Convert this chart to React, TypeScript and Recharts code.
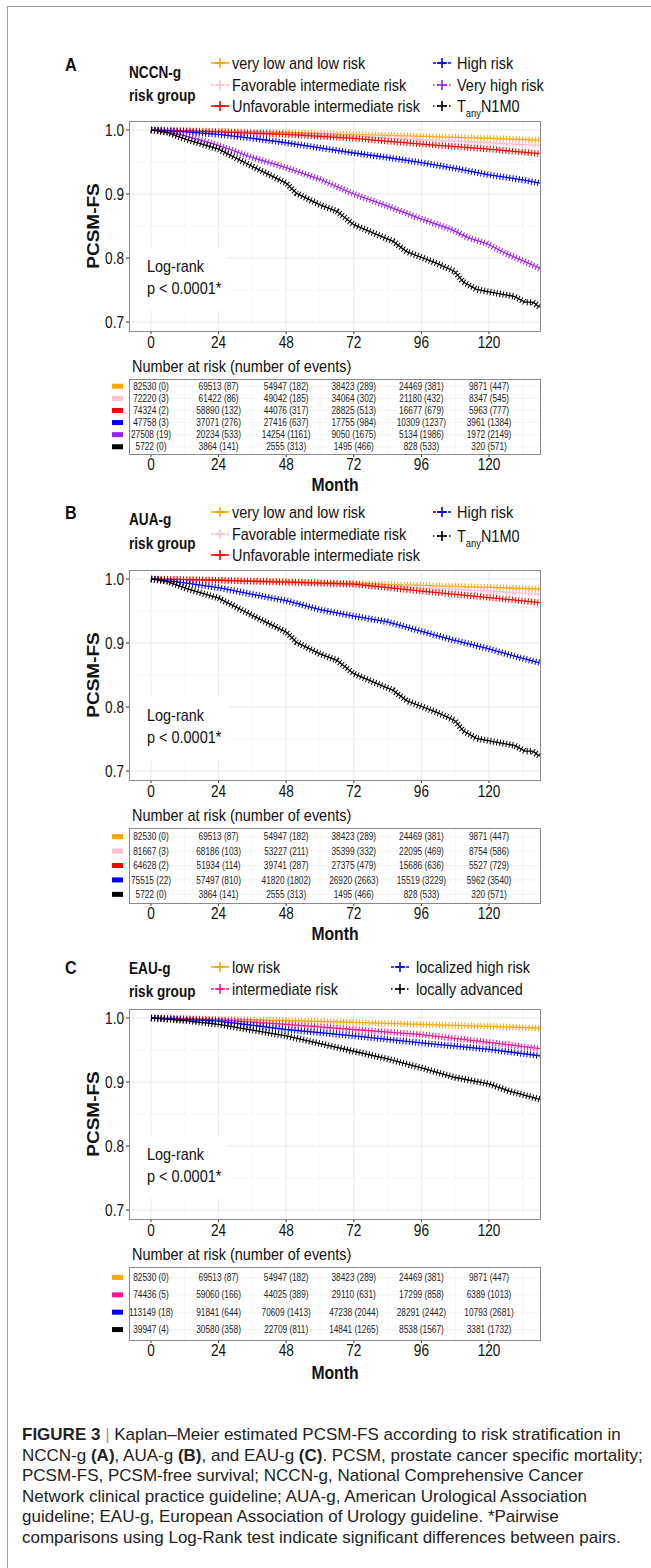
import React from 'react';
import { LineChart, Line, XAxis, YAxis, CartesianGrid, ScatterChart, Scatter } from 'recharts';

const FONT = '"Liberation Sans", Arial, Helvetica, sans-serif';

// ---------- axes ----------
const xTicks = [0, 24, 48, 72, 96, 120];
const xMinor = [12, 36, 60, 84, 108, 132];
const yTicks = [0.7, 0.8, 0.9, 1.0];
const yMinor = [0.75, 0.85, 0.95];
const riskTimes = [0, 24, 48, 72, 96, 120];

// ---------- colours ----------
const cOrange = '#FFA500';
const cPink = '#FFC0CB';
const cRed = '#FF0000';
const cBlue = '#0000FF';
const cPurple = '#A020F0';
const cBlack = '#000000';
const cDeepPink = '#FF1493';

// ---------- survival curves: [month, PCSM-FS] ----------
type Pt = [number, number];
const lowRiskCurve: Pt[] = [[0, 1], [12, 0.9995], [24, 0.998], [48, 0.996], [72, 0.993], [96, 0.99], [120, 0.987], [138, 0.984]];
const tanyN1M0Curve: Pt[] = [[0, 1], [6, 0.996], [12.7, 0.985], [24, 0.97], [36, 0.943], [48, 0.917], [51.7, 0.901], [60, 0.883], [66, 0.873], [72, 0.852], [79, 0.839], [86, 0.826], [90.7, 0.81], [95.4, 0.802], [101.3, 0.792], [107.8, 0.779], [110.8, 0.763], [115.5, 0.751], [121.4, 0.746], [129, 0.74], [132.7, 0.731], [135.6, 0.731], [138, 0.723]];

const nccnFavCurve: Pt[] = [[0, 1], [24, 0.997], [48, 0.994], [72, 0.99], [96, 0.985], [120, 0.98], [138, 0.976]];
const nccnUnfavCurve: Pt[] = [[0, 1], [24, 0.997], [48, 0.993], [72, 0.987], [96, 0.978], [120, 0.97], [138, 0.963]];
const nccnHighCurve: Pt[] = [[0, 1], [12, 0.997], [24, 0.993], [36, 0.987], [48, 0.98], [60, 0.972], [72, 0.964], [84, 0.957], [96, 0.949], [108, 0.94], [120, 0.93], [132, 0.922], [138, 0.917]];
const nccnVeryHighCurve: Pt[] = [[0, 1], [6, 0.997], [12, 0.991], [18.6, 0.983], [24.5, 0.975], [36, 0.957], [48, 0.941], [60, 0.923], [72, 0.9], [84, 0.881], [95.4, 0.862], [107, 0.844], [113, 0.831], [119, 0.823], [126, 0.807], [133, 0.794], [138, 0.784]];

const auaFavCurve: Pt[] = [[0, 1], [24, 0.998], [48, 0.994], [72, 0.99], [96, 0.986], [120, 0.981], [138, 0.976]];
const auaUnfavCurve: Pt[] = [[0, 1], [24, 0.998], [48, 0.995], [72, 0.992], [96, 0.981], [120, 0.971], [138, 0.963]];
const auaHighCurve: Pt[] = [[0, 1], [12, 0.994], [24.5, 0.986], [36, 0.976], [48, 0.966], [60, 0.952], [72, 0.942], [84, 0.933], [95.4, 0.919], [107, 0.905], [119, 0.892], [131, 0.877], [138, 0.869]];

const eauIntCurve: Pt[] = [[0, 1], [24, 0.997], [48, 0.99], [72, 0.982], [96, 0.974], [120, 0.962], [138, 0.952]];
const eauHighCurve: Pt[] = [[0, 1], [24, 0.995], [48, 0.982], [72, 0.972], [96, 0.961], [120, 0.951], [138, 0.941]];
const eauAdvCurve: Pt[] = [[0, 1], [12, 0.996], [24, 0.99], [36, 0.981], [48, 0.972], [60, 0.96], [72, 0.948], [84, 0.936], [96, 0.922], [108, 0.907], [120, 0.897], [127, 0.886], [138, 0.873]];

// ---------- number at risk (number of events) ----------
const nccnAtRisk = [
  [82530, 69513, 54947, 38423, 24469, 9871],
  [72220, 61422, 49042, 34064, 21180, 8347],
  [74324, 58890, 44076, 28825, 16677, 5963],
  [47758, 37071, 27416, 17755, 10309, 3961],
  [27508, 20234, 14254, 9050, 5134, 1972],
  [5722, 3864, 2555, 1495, 828, 320],
];
const nccnEvents = [
  [0, 87, 182, 289, 381, 447],
  [3, 86, 185, 302, 432, 545],
  [2, 132, 317, 513, 679, 777],
  [3, 276, 637, 984, 1237, 1384],
  [19, 533, 1161, 1675, 1986, 2149],
  [0, 141, 313, 466, 533, 571],
];
const auaAtRisk = [
  [82530, 69513, 54947, 38423, 24469, 9871],
  [81667, 68186, 53227, 35399, 22095, 8754],
  [64628, 51934, 39741, 27375, 15686, 5527],
  [75515, 57497, 41820, 26920, 15519, 5962],
  [5722, 3864, 2555, 1495, 828, 320],
];
const auaEvents = [
  [0, 87, 182, 289, 381, 447],
  [3, 103, 211, 332, 469, 586],
  [2, 114, 287, 479, 636, 729],
  [22, 810, 1802, 2663, 3229, 3540],
  [0, 141, 313, 466, 533, 571],
];
const eauAtRisk = [
  [82530, 69513, 54947, 38423, 24469, 9871],
  [74436, 59060, 44025, 29110, 17299, 6389],
  [113149, 91841, 70609, 47238, 28291, 10793],
  [39947, 30580, 22709, 14841, 8538, 3381],
];
const eauEvents = [
  [0, 87, 182, 289, 381, 447],
  [5, 166, 389, 631, 858, 1013],
  [18, 644, 1413, 2044, 2442, 2681],
  [4, 358, 811, 1265, 1567, 1732],
];

// ---------- layout ----------
const W = 651;
const PLOT_L = 129;
const PLOT_R = 540;
const PLOT_H = 210;
const X_DOMAIN: [number, number] = [-7.8, 138.1];
const Y_DOMAIN: [number, number] = [0.686, 1.014];
const TICK_FS = 16;
const SX = 0.85; // horizontal compression of the figure's lettering

type Curve = { pts: Pt[]; color: string };

const toData = (pts: Pt[]) => pts.map(([m, s]) => ({ m, s }));

function Txt({ x, y, children, style }: { x: number; y: number; children: React.ReactNode; style?: React.CSSProperties }) {
  return (
    <div style={{ position: 'absolute', left: x, top: y, transform: `translateY(-50%) scaleX(${SX})`, transformOrigin: 'left center', whiteSpace: 'nowrap', lineHeight: 1, ...style }}>
      {children}
    </div>
  );
}

function Border({ top, height }: { top: number; height: number }) {
  return (
    <div style={{ position: 'absolute', left: PLOT_L - 0.5, top: top - 0.5, width: PLOT_R - PLOT_L + 1, height: height + 1, border: '1px solid #8a8a8a', boxSizing: 'border-box', pointerEvents: 'none' }} />
  );
}

const XTick = (p: any) => (
  <text transform={`translate(${p.x},${p.y}) scale(${SX},1)`} textAnchor="middle" dy="0.71em" fontSize={TICK_FS} fill="#111" fontFamily={FONT}>
    {p.payload.value}
  </text>
);
const YTick = (p: any) => (
  <text transform={`translate(${p.x},${p.y}) scale(${SX},1)`} textAnchor="end" dy="0.36em" fontSize={TICK_FS} fill="#111" fontFamily={FONT}>
    {Number(p.payload.value).toFixed(1)}
  </text>
);

function KMPlot({ top, curves }: { top: number; curves: Curve[] }) {
  const m = 10;
  return (
    <div style={{ position: 'absolute', left: 0, top: top - m }}>
      <LineChart width={W} height={PLOT_H + m + 30 + 10} margin={{ top: m, right: W - PLOT_R, bottom: 10, left: PLOT_L - 40 }}>
        <CartesianGrid verticalValues={xMinor} horizontalValues={yMinor} stroke="#f4f4f4" strokeWidth={0.7} />
        <CartesianGrid verticalValues={xTicks} horizontalValues={yTicks} stroke="#ebebeb" strokeWidth={1} />
        <XAxis type="number" dataKey="m" domain={X_DOMAIN} allowDataOverflow ticks={xTicks} interval={0} axisLine={false}
          tickSize={3} tickMargin={3} height={30} tickLine={{ stroke: '#333' }} tick={XTick} />
        <YAxis type="number" domain={Y_DOMAIN} allowDataOverflow ticks={yTicks} interval={0} axisLine={false}
          tickSize={3} tickMargin={2} width={40} tickLine={{ stroke: '#333' }} tick={YTick} />
        {curves.flatMap((c, i) => [
          <Line key={'l' + i} data={toData(c.pts)} dataKey="s" type="linear" stroke={c.color} strokeWidth={1.3} dot={false} activeDot={false} isAnimationActive={false} />,
          <Line key={'t' + i} data={toData(c.pts)} dataKey="s" type="linear" stroke={c.color} strokeWidth={6.5} strokeDasharray="1 2.2" dot={false} activeDot={false} isAnimationActive={false} />,
        ])}
      </LineChart>
      <Border top={m} height={PLOT_H} />
    </div>
  );
}

function RiskTable({ top, boxH, colors, atRisk, events }: { top: number; boxH: number; colors: string[]; atRisk: number[][]; events: number[][] }) {
  const m = 10;
  const n = colors.length;
  const rowVals = colors.map((_, i) => n - i);
  const data = atRisk.flatMap((row, i) =>
    row.map((v, j) => ({ m: riskTimes[j], row: n - i, label: `${v} (${events[i][j]})` })),
  );
  return (
    <div style={{ position: 'absolute', left: 0, top: top - m }}>
      <ScatterChart width={W} height={boxH + m + 30 + 10} margin={{ top: m, right: W - PLOT_R, bottom: 10, left: PLOT_L - 40 }}>
        <CartesianGrid verticalValues={[...xTicks, ...xMinor]} horizontalValues={rowVals} stroke="#f1f1f1" strokeWidth={0.8} />
        <XAxis type="number" dataKey="m" domain={X_DOMAIN} ticks={xTicks} interval={0} axisLine={false}
          tickSize={3} tickMargin={2} height={30} tickLine={{ stroke: '#333' }} tick={XTick} />
        <YAxis type="number" dataKey="row" domain={[0.4, n + 0.6]} ticks={rowVals} interval={0}
          axisLine={false} tickLine={false} tickSize={0} tickMargin={6} width={40}
          tick={(p: any) => <rect x={p.x - 11} y={p.y - 2.5} width={11} height={5} fill={colors[n - p.payload.value]} />} />
        <Scatter data={data} isAnimationActive={false}
          shape={(p: any) => (
            <text transform={`translate(${p.cx},${p.cy}) scale(0.83,1)`} dy="0.36em" textAnchor="middle" fontSize={10} fill="#222" fontFamily={FONT}>
              {(p.payload && p.payload.label) || p.label}
            </text>
          )} />
      </ScatterChart>
      <Border top={m} height={boxH} />
    </div>
  );
}

type LegendItem = { label: React.ReactNode; color: string; dash?: string };

function KeySym({ x, y, color, dash }: { x: number; y: number; color: string; dash?: string }) {
  return (
    <svg width={20} height={12} style={{ position: 'absolute', left: x, top: y - 6 }}>
      <line x1={1} y1={6} x2={19} y2={6} stroke={color} strokeWidth={1.6} strokeDasharray={dash} />
      <line x1={5} y1={6} x2={15} y2={6} stroke={color} strokeWidth={1.6} />
      <line x1={10} y1={1} x2={10} y2={11} stroke={color} strokeWidth={1.6} />
    </svg>
  );
}

const Tany = (
  <span>T<sub style={{ fontSize: 11, verticalAlign: 'baseline', position: 'relative', top: 5 }}>any</sub>N1M0</span>
);

type PanelProps = {
  letter: string;
  letterY: number;
  title: string;
  titleY: [number, number];
  col1: LegendItem[];
  col1Y: number[];
  col2: LegendItem[];
  col2Y: number[];
  col2KeyX: number;
  col2TextX: number;
  plotTop: number;
  curves: Curve[];
  tableTop: number;
  tableH: number;
  colors: string[];
  atRisk: number[][];
  events: number[][];
  monthY: number;
};

const LEG_FS = 17;

function Panel(p: PanelProps) {
  return (
    <>
      <Txt x={65} y={p.letterY} style={{ fontWeight: 'bold', fontSize: 19 }}>{p.letter}</Txt>
      <Txt x={129} y={p.titleY[0]} style={{ fontWeight: 'bold', fontSize: 16 }}>{p.title}</Txt>
      <Txt x={129} y={p.titleY[1]} style={{ fontWeight: 'bold', fontSize: 16 }}>risk group</Txt>
      {p.col1.map((it, i) => (
        <React.Fragment key={'c1' + i}>
          <KeySym x={210} y={p.col1Y[i]} color={it.color} dash={it.dash} />
          <Txt x={232} y={p.col1Y[i]} style={{ fontSize: LEG_FS }}>{it.label}</Txt>
        </React.Fragment>
      ))}
      {p.col2.map((it, i) => (
        <React.Fragment key={'c2' + i}>
          <KeySym x={p.col2KeyX} y={p.col2Y[i]} color={it.color} dash={it.dash} />
          <Txt x={p.col2TextX} y={p.col2Y[i]} style={{ fontSize: LEG_FS }}>{it.label}</Txt>
        </React.Fragment>
      ))}
      <KMPlot top={p.plotTop} curves={p.curves} />
      <div style={{ position: 'absolute', left: 93, top: p.plotTop + 105, transform: `translate(-50%, -50%) rotate(-90deg) scaleY(${SX})`, fontWeight: 'bold', fontSize: 19, whiteSpace: 'nowrap', lineHeight: 1 }}>
        PCSM-FS
      </div>
      <div style={{ position: 'absolute', left: 133, top: p.plotTop + 127, width: 95, height: 62, background: '#fff' }}>
        <Txt x={14} y={18} style={{ fontSize: 17 }}>Log-rank</Txt>
        <Txt x={14} y={40} style={{ fontSize: 17 }}>p &lt; 0.0001*</Txt>
      </div>
      <Txt x={132} y={p.plotTop + PLOT_H + 35} style={{ fontSize: 17 }}>Number at risk (number of events)</Txt>
      <RiskTable top={p.tableTop} boxH={p.tableH} colors={p.colors} atRisk={p.atRisk} events={p.events} />
      <div style={{ position: 'absolute', left: (PLOT_L + PLOT_R) / 2, top: p.monthY, transform: `translate(-50%, -50%) scaleX(${SX})`, fontWeight: 'bold', fontSize: 18.5, lineHeight: 1 }}>Month</div>
    </>
  );
}

const captionLines: React.ReactNode[] = [
  <><b>FIGURE 3</b> <span style={{ color: '#999' }}>|</span> Kaplan–Meier estimated PCSM-FS according to risk stratification in</>,
  <>NCCN-g <b>(A)</b>, AUA-g <b>(B)</b>, and EAU-g <b>(C)</b>. PCSM, prostate cancer specific mortality;</>,
  <>PCSM-FS, PCSM-free survival; NCCN-g, National Comprehensive Cancer</>,
  <>Network clinical practice guideline; AUA-g, American Urological Association</>,
  <>guideline; EAU-g, European Association of Urology guideline. *Pairwise</>,
  <>comparisons using Log-Rank test indicate significant differences between pairs.</>,
];

export default function App() {
  return (
    <div style={{ position: 'relative', width: W, height: 1568, background: '#fff', fontFamily: FONT, color: '#111', overflow: 'hidden' }}>
      <style>{'body{margin:0;}'}</style>
      <div style={{ position: 'absolute', left: 7, top: 6, width: W - 7, height: 1568 - 6, borderLeft: '1px solid #a0a0a0', borderTop: '1px solid #a0a0a0', boxSizing: 'border-box' }} />

      <Panel
        letter="A" letterY={64} title="NCCN-g" titleY={[73, 96]}
        col1={[
          { label: 'very low and low risk', color: cOrange },
          { label: 'Favorable intermediate risk', color: cPink, dash: '3 2' },
          { label: 'Unfavorable intermediate risk', color: cRed },
        ]}
        col1Y={[63, 85, 106]}
        col2={[
          { label: 'High risk', color: cBlue, dash: '3 2' },
          { label: 'Very high risk', color: cPurple, dash: '1.5 2.5' },
          { label: Tany, color: cBlack, dash: '1.5 2.5' },
        ]}
        col2Y={[63, 85, 106]} col2KeyX={432} col2TextX={457}
        plotTop={121}
        curves={[
          { pts: lowRiskCurve, color: cOrange },
          { pts: nccnFavCurve, color: cPink },
          { pts: nccnUnfavCurve, color: cRed },
          { pts: nccnHighCurve, color: cBlue },
          { pts: nccnVeryHighCurve, color: cPurple },
          { pts: tanyN1M0Curve, color: cBlack },
        ]}
        tableTop={379} tableH={75}
        colors={[cOrange, cPink, cRed, cBlue, cPurple, cBlack]}
        atRisk={nccnAtRisk} events={nccnEvents}
        monthY={485}
      />

      <Panel
        letter="B" letterY={512} title="AUA-g" titleY={[520, 544]}
        col1={[
          { label: 'very low and low risk', color: cOrange },
          { label: 'Favorable intermediate risk', color: cPink, dash: '3 2' },
          { label: 'Unfavorable intermediate risk', color: cRed },
        ]}
        col1Y={[512, 534, 555]}
        col2={[
          { label: 'High risk', color: cBlue, dash: '3 2' },
          { label: Tany, color: cBlack, dash: '1.5 2.5' },
        ]}
        col2Y={[512, 536]} col2KeyX={432} col2TextX={457}
        plotTop={570}
        curves={[
          { pts: lowRiskCurve, color: cOrange },
          { pts: auaFavCurve, color: cPink },
          { pts: auaUnfavCurve, color: cRed },
          { pts: auaHighCurve, color: cBlue },
          { pts: tanyN1M0Curve, color: cBlack },
        ]}
        tableTop={828} tableH={75}
        colors={[cOrange, cPink, cRed, cBlue, cBlack]}
        atRisk={auaAtRisk} events={auaEvents}
        monthY={934}
      />

      <Panel
        letter="C" letterY={967} title="EAU-g" titleY={[969, 992]}
        col1={[
          { label: 'low risk', color: cOrange },
          { label: 'intermediate risk', color: cDeepPink, dash: '3 2' },
        ]}
        col1Y={[967, 989]}
        col2={[
          { label: 'localized high risk', color: cBlue, dash: '3 2' },
          { label: 'locally advanced', color: cBlack, dash: '1.5 2.5' },
        ]}
        col2Y={[967, 989]} col2KeyX={390} col2TextX={416}
        plotTop={1009}
        curves={[
          { pts: lowRiskCurve, color: cOrange },
          { pts: eauIntCurve, color: cDeepPink },
          { pts: eauHighCurve, color: cBlue },
          { pts: eauAdvCurve, color: cBlack },
        ]}
        tableTop={1267} tableH={73}
        colors={[cOrange, cDeepPink, cBlue, cBlack]}
        atRisk={eauAtRisk} events={eauEvents}
        monthY={1373}
      />

      <div style={{ position: 'absolute', left: 22, top: 1425, fontSize: 17, lineHeight: '20.6px', color: '#222' }}>
        {captionLines.map((l, i) => (
          <div key={i} style={{ whiteSpace: 'nowrap' }}>{l}</div>
        ))}
      </div>
    </div>
  );
}
